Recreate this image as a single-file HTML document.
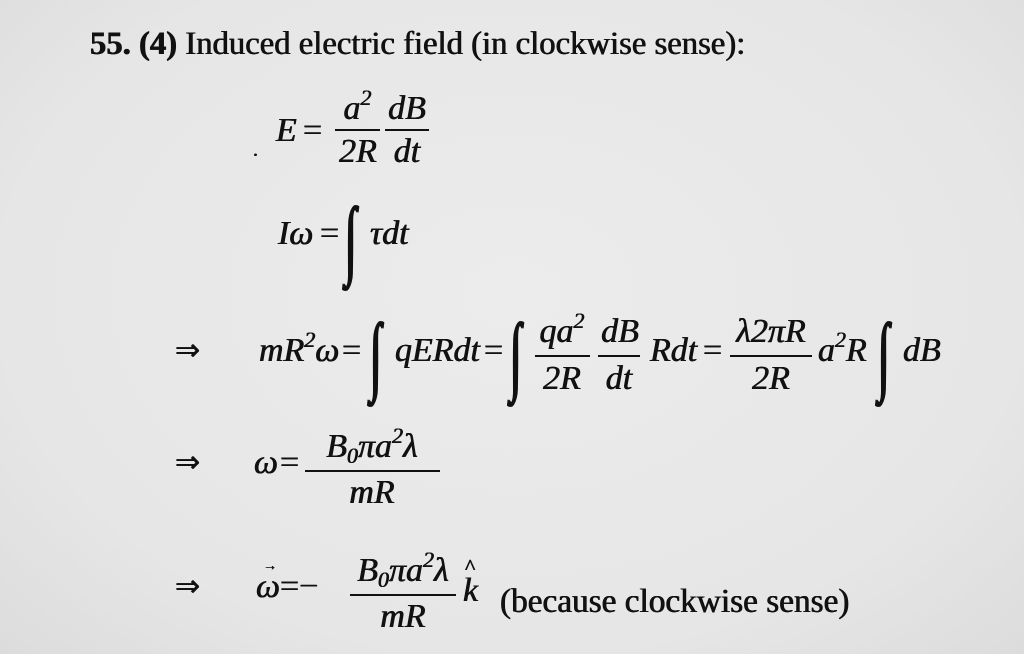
<!DOCTYPE html>
<html><head><meta charset="utf-8"><style>
html,body{margin:0;padding:0}
body{width:1024px;height:654px;position:relative;overflow:hidden;background:radial-gradient(ellipse at 50% 45%,#ececec 0%,#e6e6e6 70%,#dcdcdc 100%);font-family:"Liberation Serif","DejaVu Serif",serif;color:#111}
.t{position:absolute;line-height:1;white-space:nowrap;font-size:34px;font-style:italic;font-family:"Liberation Serif",serif;text-shadow:0.4px 0 0 #111,-0.4px 0 0 #111}
.n{font-style:normal}
.s{font-size:22px}
.b{position:absolute;height:2px;background:#111}
.i{position:absolute;line-height:1;font-size:46px;transform:scale(0.9,1.9);transform-origin:0 50%;font-style:normal;font-family:"Liberation Serif",serif;text-shadow:1px 0 0 #111,-1px 0 0 #111}
.c{text-align:center}
</style></head><body>
<div class="t n" style="left:90px;top:28px;font-size:32.7px"><b>55.</b> <b>(4)</b> Induced electric field (in clockwise sense):</div>

<!-- E = -->
<div class="t" style="left:276px;top:114px">E</div>
<div class="t n" style="left:303px;top:114px">=</div>
<div class="t c" style="left:335px;top:92px;width:45px">a<span class="s" style="position:relative;top:-14px">2</span></div>
<div class="b" style="left:335px;top:129px;width:45px"></div>
<div class="t c" style="left:333px;top:135px;width:50px">2R</div>
<div class="t c" style="left:385px;top:92px;width:44px">dB</div>
<div class="b" style="left:385px;top:129px;width:44px"></div>
<div class="t c" style="left:385px;top:135px;width:44px">dt</div>
<div class="t n" style="left:253px;top:140px;font-size:20px">.</div>

<!-- Iω -->
<div class="t" style="left:278px;top:217px">Iω</div>
<div class="t n" style="left:320px;top:217px">=</div>
<div class="i" style="left:345px;top:216px">∫</div>
<div class="t" style="left:370px;top:217px">τdt</div>

<!-- line 3 -->
<div class="t n" style="left:175px;top:336px;font-size:30px">⇒</div>
<div class="t" style="left:259px;top:334px">mR<span class="s" style="position:relative;top:-14px">2</span>ω</div>
<div class="t n" style="left:342px;top:334px">=</div>
<div class="i" style="left:370px;top:332px">∫</div>
<div class="t" style="left:395px;top:334px">qERdt</div>
<div class="t n" style="left:484px;top:334px">=</div>
<div class="i" style="left:510px;top:332px">∫</div>
<div class="t c" style="left:533px;top:315px;width:58px">qa<span class="s" style="position:relative;top:-14px">2</span></div>
<div class="b" style="left:535px;top:355px;width:55px"></div>
<div class="t c" style="left:533px;top:362px;width:58px">2R</div>
<div class="t c" style="left:598px;top:315px;width:44px">dB</div>
<div class="b" style="left:598px;top:355px;width:42px"></div>
<div class="t c" style="left:598px;top:362px;width:42px">dt</div>
<div class="t" style="left:650px;top:334px">Rdt</div>
<div class="t n" style="left:703px;top:334px">=</div>
<div class="t c" style="left:728px;top:315px;width:86px">λ2πR</div>
<div class="b" style="left:730px;top:355px;width:82px"></div>
<div class="t c" style="left:728px;top:362px;width:86px">2R</div>
<div class="t" style="left:818px;top:334px">a<span class="s" style="position:relative;top:-14px">2</span>R</div>
<div class="i" style="left:878px;top:332px">∫</div>
<div class="t" style="left:903px;top:334px">dB</div>

<!-- line 4 -->
<div class="t n" style="left:175px;top:448px;font-size:30px">⇒</div>
<div class="t" style="left:254px;top:446px">ω</div>
<div class="t n" style="left:280px;top:446px">=</div>
<div class="t c" style="left:303px;top:430px;width:138px">B<span class="s" style="position:relative;top:6px">0</span>πa<span class="s" style="position:relative;top:-14px">2</span>λ</div>
<div class="b" style="left:305px;top:470px;width:135px"></div>
<div class="t c" style="left:303px;top:476px;width:138px">mR</div>

<!-- line 5 -->
<div class="t n" style="left:175px;top:572px;font-size:30px">⇒</div>
<div class="t" style="left:256px;top:570px">ω</div>
<div class="t n" style="left:263px;top:560px;font-size:14px">→</div>
<div class="t n" style="left:280px;top:570px">=−</div>
<div class="t c" style="left:348px;top:554px;width:110px">B<span class="s" style="position:relative;top:6px">0</span>πa<span class="s" style="position:relative;top:-14px">2</span>λ</div>
<div class="b" style="left:350px;top:594px;width:106px"></div>
<div class="t c" style="left:348px;top:600px;width:110px">mR</div>
<div class="t" style="left:463px;top:574px">k</div>
<div class="t n" style="left:465px;top:556px;font-size:22px">^</div>
<div class="t n" style="left:500px;top:585px;font-size:33.3px">(because clockwise sense)</div>
</body></html>
